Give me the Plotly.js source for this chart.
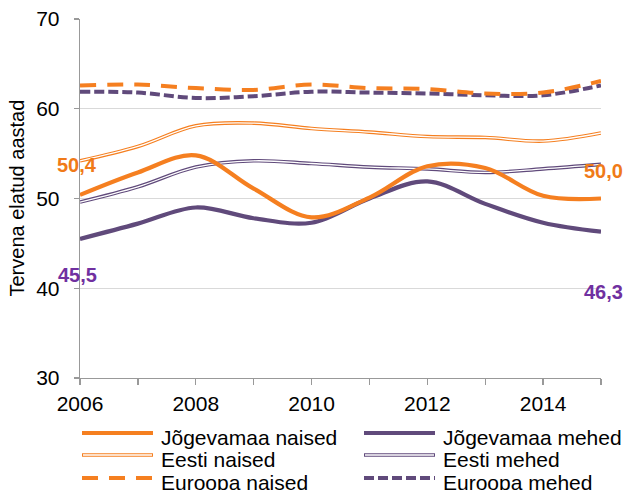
<!DOCTYPE html>
<html>
<head>
<meta charset="utf-8">
<script src="https://cdn.plot.ly/plotly-3.0.1.min.js"></script>
<style>html,body{margin:0;padding:0;background:#fff;}#chart{width:628px;height:490px;}</style>
</head>
<body>
<div id="chart"></div>
<script>
// ---- data ----
const years = [2006, 2007, 2008, 2009, 2010, 2011, 2012, 2013, 2014, 2015];
const jogNaised   = [50.4, 52.9, 54.8, 51.1, 47.9, 50.1, 53.6, 53.4, 50.3, 50.0];
const jogMehed    = [45.5, 47.2, 49.0, 47.8, 47.3, 50.0, 51.9, 49.4, 47.3, 46.3];
const eestiNaised = [54.2, 55.8, 58.1, 58.4, 57.8, 57.4, 56.9, 56.8, 56.4, 57.3];
const eestiMehed  = [49.6, 51.3, 53.5, 54.2, 53.9, 53.5, 53.3, 52.9, 53.3, 53.8];
const euroNaised  = [62.6, 62.7, 62.3, 62.1, 62.7, 62.3, 62.2, 61.7, 61.8, 63.1];
const euroMehed   = [61.9, 61.8, 61.2, 61.4, 61.9, 61.8, 61.7, 61.5, 61.5, 62.6];
const seriesNames = ["Jõgevamaa naised", "Jõgevamaa mehed", "Eesti naised", "Eesti mehed", "Euroopa naised", "Euroopa mehed"];
const yTitle = "Tervena elatud aastad";
const xTickVals = [2006, 2008, 2010, 2012, 2014];
const yTickVals = [30, 40, 50, 60, 70];

// ---- styles ----
const ORANGE = "#F57F20";
const PURPLE = "#604A7B";
const LBL_OR = "#F07A18";
const LBL_PU = "#7030A0";
const FONT = "Liberation Sans, Arial, sans-serif";
const DASH_OR = "16px,11px";
const DASH_PU = "10px,4px";

function sp(y, color, width, dash) {
  return {x: years, y: y, type: "scatter", mode: "lines", showlegend: false, hoverinfo: "skip",
    line: {color: color, width: width, dash: dash || "solid", shape: "spline", smoothing: 1}};
}

const traces = [
  sp(euroMehed, PURPLE, 4, DASH_PU),
  sp(euroNaised, ORANGE, 4, DASH_OR),
  sp(eestiMehed, PURPLE, 3.6), sp(eestiMehed, "#ffffff", 1.3),
  sp(eestiNaised, ORANGE, 3.6), sp(eestiNaised, "#ffffff", 1.3),
  sp(jogMehed, PURPLE, 4.2),
  sp(jogNaised, ORANGE, 4.2)
];

// ---- manual legend (double-line symbols) ----
const legStyles = [
  {color: ORANGE, w: 4.2, dash: "solid", dbl: false},
  {color: PURPLE, w: 4.2, dash: "solid", dbl: false},
  {color: ORANGE, w: 3.6, dash: "solid", dbl: true},
  {color: PURPLE, w: 3.6, dash: "solid", dbl: true},
  {color: ORANGE, w: 4, dash: DASH_OR, dbl: false},
  {color: PURPLE, w: 4, dash: DASH_PU, dbl: false}
];
const plotL = 80, plotR = 601, plotT = 19, plotB = 378;
const px2x = p => (p - plotL) / (plotR - plotL);
const py2y = p => (plotB - p) / (plotB - plotT);
const colLine = [[82, 153], [364, 435]];
const colText = [159, 441];
const rowY = [433, 455, 478];
const shapes = [];
const annotations = [];
seriesNames.forEach((name, i) => {
  const c = i % 2, r = Math.floor(i / 2), s = legStyles[i];
  shapes.push({type: "line", xref: "paper", yref: "paper",
    x0: px2x(colLine[c][0]), x1: px2x(colLine[c][1]), y0: py2y(rowY[r]), y1: py2y(rowY[r]),
    line: {color: s.color, width: s.w, dash: s.dash}});
  if (s.dbl) shapes.push({type: "line", xref: "paper", yref: "paper",
    x0: px2x(colLine[c][0] + 1), x1: px2x(colLine[c][1] - 1), y0: py2y(rowY[r]), y1: py2y(rowY[r]),
    line: {color: "#ffffff", width: 1.3}});
  annotations.push({xref: "paper", yref: "paper", x: px2x(colText[c]), y: py2y(rowY[r] + 4),
    xanchor: "left", yanchor: "middle", showarrow: false, text: name,
    font: {family: FONT, size: 21, color: "#000"}});
});

// ---- y axis title ----
annotations.push({xref: "paper", yref: "paper", x: px2x(16.5), y: py2y(198),
  xanchor: "center", yanchor: "middle", textangle: -90, showarrow: false, text: yTitle,
  font: {family: FONT, size: 20, color: "#000"}});

// ---- data labels ----
const fmt = v => v.toFixed(1).replace(".", ",");
const last = years.length - 1;
[
  {x: years[0], y: jogNaised[0], c: LBL_OR, xs: -3, ys: 30},
  {x: years[0], y: jogMehed[0], c: LBL_PU, xs: -3, ys: -36},
  {x: years[last], y: jogNaised[last], c: LBL_OR, xs: 2, ys: 28},
  {x: years[last], y: jogMehed[last], c: LBL_PU, xs: 2, ys: -60}
].forEach(l => annotations.push({x: l.x, y: l.y, xref: "x", yref: "y", showarrow: false,
  text: "<b>" + fmt(l.y) + "</b>", xshift: l.xs, yshift: l.ys, xanchor: "center", yanchor: "middle",
  font: {family: FONT, size: 20, color: l.c}}));

const layout = {
  width: 628, height: 490,
  margin: {l: plotL, r: 628 - plotR, t: plotT, b: 490 - plotB},
  paper_bgcolor: "#fff", plot_bgcolor: "#fff",
  showlegend: false,
  font: {family: FONT, size: 21, color: "#000"},
  xaxis: {range: [2006, 2015], tickvals: xTickVals, ticktext: xTickVals.map(String),
    showgrid: false, zeroline: false, showline: true, linecolor: "#999", linewidth: 1.3,
    ticks: "outside", ticklen: 6, tickcolor: "#999", tickwidth: 1.3,
    minor: {dtick: 1, tick0: 2006, ticks: "outside", ticklen: 6, tickcolor: "#999", tickwidth: 1.3, showgrid: false},
    tickfont: {family: FONT, size: 21, color: "#000"}, fixedrange: true},
  yaxis: {range: [30, 70], tickvals: yTickVals, showgrid: true, gridcolor: "#D9D9D9", gridwidth: 1.3,
    zeroline: false, showline: true, linecolor: "#999", linewidth: 1.3,
    ticks: "outside", ticklen: 5, tickcolor: "#999", tickwidth: 1.3, ticklabelstandoff: 10,
    tickfont: {family: FONT, size: 21, color: "#000"}, fixedrange: true},
  shapes: shapes,
  annotations: annotations
};

Plotly.newPlot("chart", traces, layout, {staticPlot: true, displayModeBar: false});
</script>
</body>
</html>
